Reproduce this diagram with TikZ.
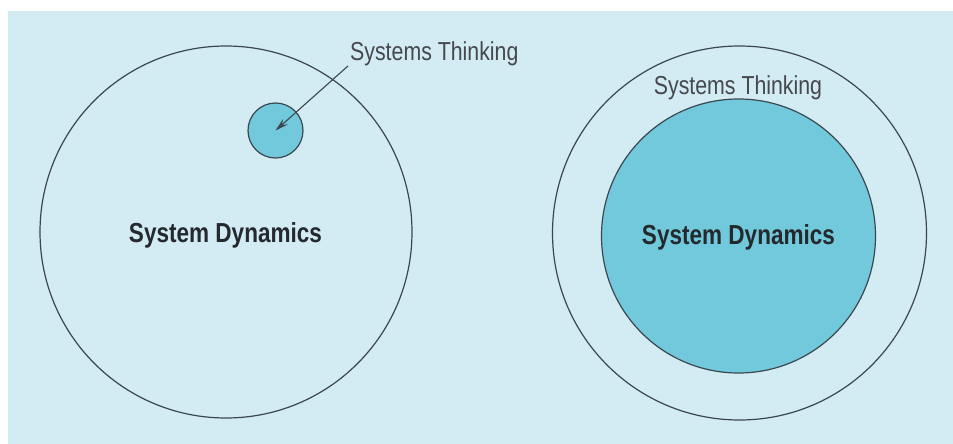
\documentclass[tikz,border=0pt]{standalone}
\usepackage{fontspec}
\setmainfont{Liberation Sans}
\newfontfamily\condfont{Liberation Sans}[FakeStretch=0.82]
\usetikzlibrary{arrows.meta}
\definecolor{bgblue}{HTML}{D3EBF2}
\definecolor{fillblue}{HTML}{72C9DC}
\definecolor{linegray}{HTML}{3A474E}
\definecolor{textgray}{HTML}{24292E}
\tikzset{
  ring/.style={circle, draw=linegray, line width=1.2pt, inner sep=0pt},
  filled/.style={ring, fill=fillblue},
  thinklabel/.style={font=\condfont\fontsize{26}{28}\selectfont, text=textgray!85!white, inner sep=0pt},
  dynlabel/.style={font=\condfont\bfseries\fontsize{27.5}{30}\selectfont, text=textgray, inner sep=0pt},
  pointer/.style={draw=linegray, line width=1.1pt, -{Stealth[length=13pt,width=7pt]}}
}
\begin{document}
\begin{tikzpicture}[x=1pt,y=-1pt]
\useasboundingbox (0,0) rectangle (953,444);
\fill[bgblue] (8,11) rectangle (953,444);
% left
\node[ring, minimum size=372pt] (L) at (226,232) {};
\node[dynlabel] (Ltext) at (225.5,235) {System Dynamics};
\node[filled, minimum size=55pt] (st) at (275.5,130.5) {};
\node[thinklabel, anchor=base west] (lab1) at (350,60) {Systems Thinking};
\coordinate (p) at (348,66);
\draw[pointer] (p) -- (st.center);
% right
\node[ring, minimum size=374pt] (RO) at (739.5,233) {};
\node[filled, minimum size=274pt] (RI) at (738.5,236) {};
\node[dynlabel] (Rtext) at (738.5,237) {System Dynamics};
\node[thinklabel] (lab2) at (738,88) {Systems Thinking};
\end{tikzpicture}
\end{document}
